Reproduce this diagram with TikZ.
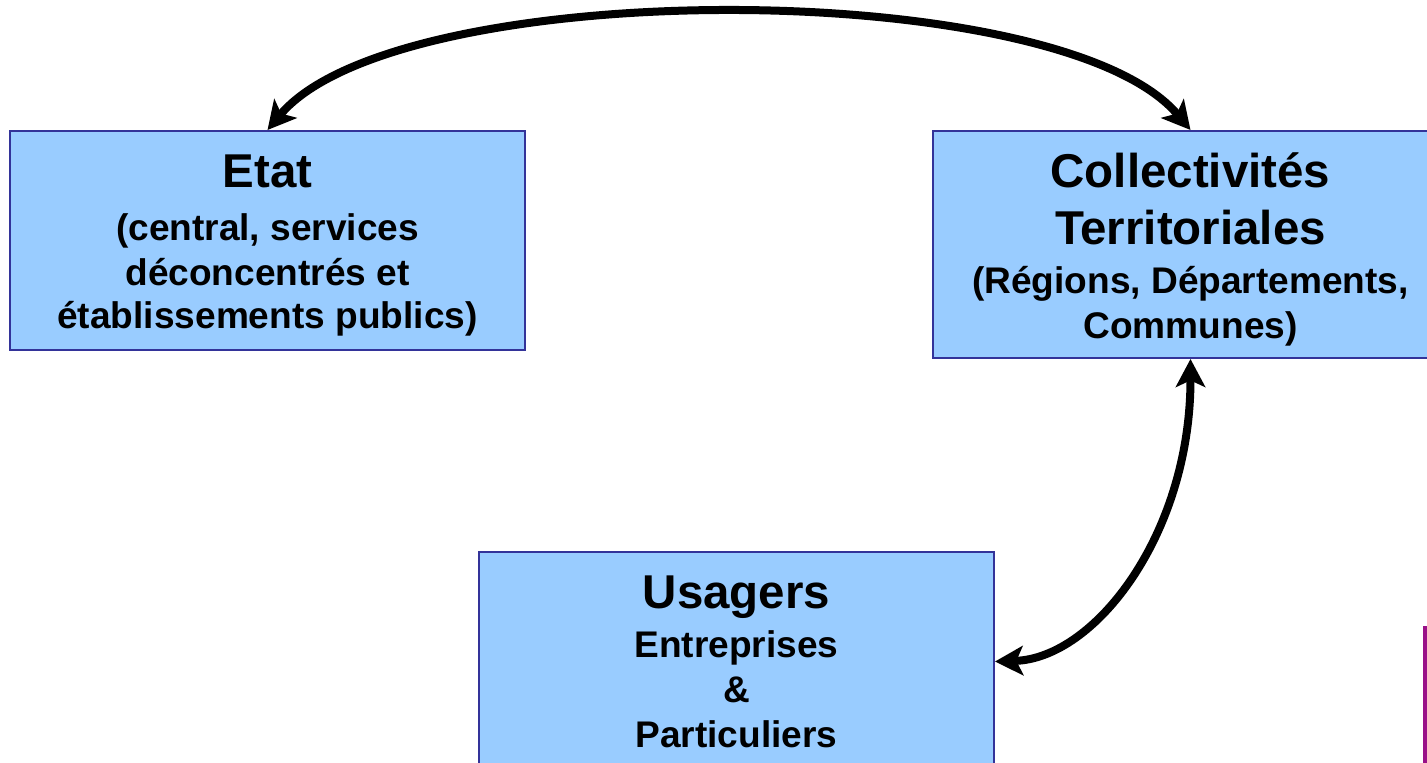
\documentclass[tikz,border=0pt]{standalone}
\usepackage{fontspec}
\setmainfont{Liberation Sans}
\usetikzlibrary{arrows.meta}
\definecolor{boxfill}{HTML}{99CCFF}
\definecolor{boxline}{HTML}{333399}
\definecolor{barcol}{RGB}{153,17,136}
\tikzset{
  entity/.style={draw=boxline, fill=boxfill, line width=1.5pt, rectangle,
    minimum width=386.25pt, inner sep=0pt},
  titletext/.style={anchor=base, inner sep=0pt, font=\fontsize{35.6}{40}\selectfont\bfseries},
  subtext/.style={anchor=base, inner sep=0pt, font=\fontsize{27.8}{32}\selectfont\bfseries},
  link/.style={line width=6pt, {Stealth[length=21pt,width=22pt,inset=5pt]}-{Stealth[length=21pt,width=22pt,inset=5pt]}}
}
\begin{document}
\begin{tikzpicture}[x=0.75pt,y=-0.75pt]
\useasboundingbox (0,0) rectangle (1427,763);
\clip (0,0) rectangle (1427,763);
\fill[white] (0,0) rectangle (1427,763);

% boxes
\node[entity, minimum height=164.25pt] (etat) at (267.5,240.5) {};
\node[entity, minimum height=170.25pt] (coll) at (1190.5,244.5) {};
\node[entity, minimum height=164.25pt] (usag) at (736.5,661.5) {};

% Etat text
\node[titletext] (etat1) at (267.5,188) {Etat};
\node[subtext] (etat2) at (267.5,240) {(central, services};
\node[subtext] (etat3) at (267.5,285) {déconcentrés et};
\node[subtext] (etat4) at (267.5,328.5) {établissements publics)};

% Collectivites text
\node[titletext] (coll1) at (1190.5,188) {Collectivités};
\node[titletext] (coll2) at (1190.5,244) {Territoriales};
\node[subtext] (coll3) at (1190.5,293) {(Régions, Départements,};
\node[subtext] (coll4) at (1190.5,338) {Communes)};

% Usagers text
\node[titletext] (usag1) at (736.5,608) {Usagers};
\node[subtext] (usag2) at (736.5,657) {Entreprises};
\node[subtext] (usag3) at (736.5,702) {\&};
\node[subtext] (usag4) at (736.5,747) {Particuliers};

% connectors
\draw[link] (etat.north) .. controls +(130,-155) and +(-130,-155) .. (coll.north);
\draw[link] (coll.south) .. controls +(0,175) and +(100,-3) .. (usag.east);

% purple bar at right edge
\fill[barcol] (1423,626) rectangle (1427,763);
\end{tikzpicture}
\end{document}
